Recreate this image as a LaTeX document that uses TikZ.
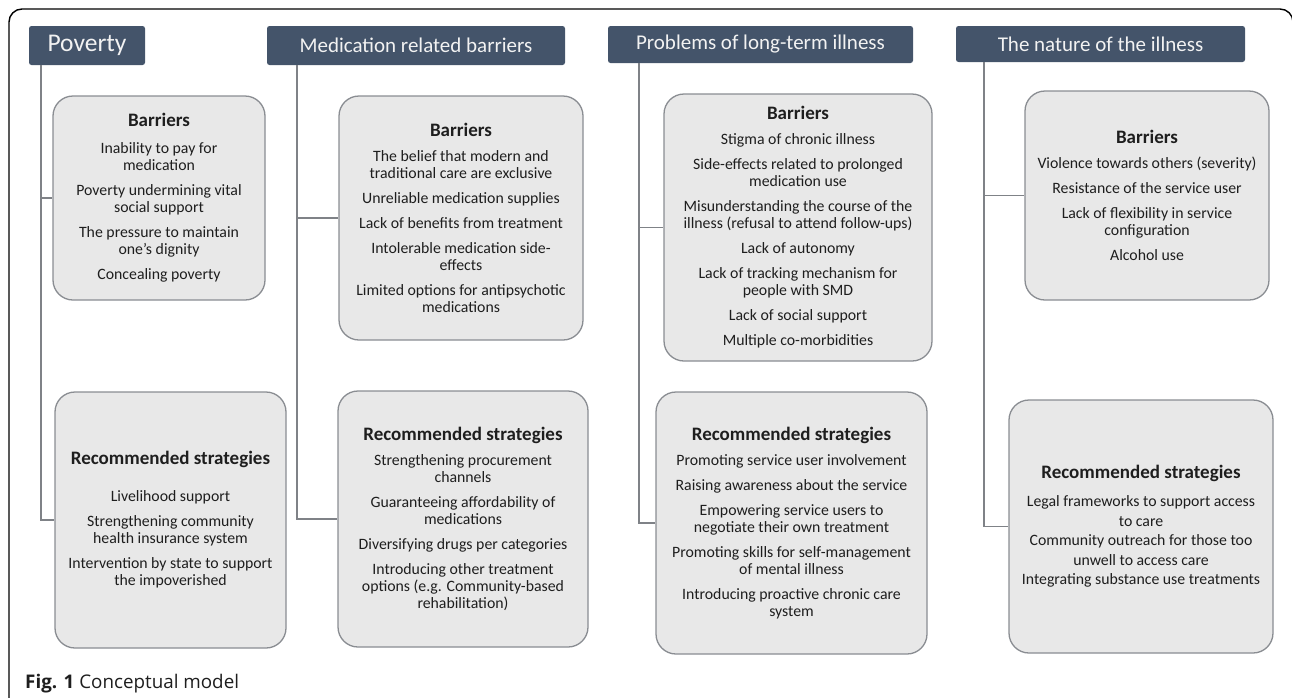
\documentclass[tikz,border=0pt]{standalone}
\usepackage{fontspec}
\setmainfont{Carlito}
\newfontfamily\capfont{Open Sans}
\definecolor{hdrfill}{HTML}{44546A}
\definecolor{boxfill}{HTML}{E8E8E8}
\definecolor{boxline}{HTML}{8A8D92}
\definecolor{conline}{HTML}{7F8287}
\definecolor{txt}{HTML}{1E1E1E}
\begin{document}
\begin{tikzpicture}[x=1pt,y=-1pt,
  hdr/.style={fill=hdrfill, rounded corners=2.5pt, inner sep=0pt, text=white!95!black,
    font=\fontsize{21}{24}\selectfont},
  card/.style={fill=boxfill, draw=boxline, line width=1.3pt, rounded corners=20pt,
    inner sep=0pt, align=center, text=txt, font=\fontsize{15.8}{17}\selectfont},
  con/.style={draw=conline, line width=1.2pt}
]
\useasboundingbox (0,0) rectangle (1292,697);
% outer frame
\draw[line width=1.4pt, rounded corners=13pt] (9,700) -- (9,9) -- (1293,9) -- (1293,700);

% headers
\node[hdr, minimum width=116pt, minimum height=39pt, font=\fontsize{25.5}{28}\selectfont] (hp) at (87,45.5) {Poverty};
\node[hdr, minimum width=298pt, minimum height=39pt] (hm) at (416,45.5) {Medication related barriers};
\node[hdr, minimum width=305pt, minimum height=37pt] (hl) at (760.5,44.5) {Problems of long-term illness};
\node[hdr, minimum width=289pt, minimum height=36pt] (hn) at (1100.5,44) {The nature of the illness};

\newcommand{\bt}[1]{{\fontsize{19}{20}\selectfont\bfseries #1}}
\newcommand{\gp}{\\[8pt]}

% Poverty boxes
\node[card, minimum width=212pt, minimum height=204pt] (pb) at (159,198) {%
\bt{Barriers}\\[10pt]
Inability to pay for\\ medication\gp
Poverty undermining vital\\ social support\gp
The pressure to maintain\\ one’s dignity\gp
Concealing poverty};
\node[card, minimum width=231pt, minimum height=256pt] (ps) at (170.5,520) {%
\bt{Recommended strategies}\\[20pt]
Livelihood support\gp
Strengthening community\\ health insurance system\gp
Intervention by state to support\\ the impoverished};

% Medication boxes
\node[card, minimum width=244pt, minimum height=244pt] (mb) at (461,218) {%
\bt{Barriers}\\[8pt]
The belief that modern and\\ traditional care are exclusive\gp
Unreliable medication supplies\gp
Lack of benefits from treatment\gp
Intolerable medication side-\\ effects\gp
Limited options for antipsychotic\\ medications};
\node[card, minimum width=250pt, minimum height=256pt] (ms) at (463,519) {%
\bt{Recommended strategies}\\[8pt]
Strengthening procurement\\ channels\gp
Guaranteeing affordability of\\ medications\gp
Diversifying drugs per categories\gp
Introducing other treatment\\ options (e.g. Community-based\\ rehabilitation)};

% Long-term illness boxes
\node[card, minimum width=268pt, minimum height=267pt] (lb) at (798,227.5) {%
\bt{Barriers}\\[8pt]
Stigma of chronic illness\gp
Side-effects related to prolonged\\ medication use\gp
Misunderstanding the course of the\\ illness (refusal to attend follow-ups)\gp
Lack of autonomy\gp
Lack of tracking mechanism for\\ people with SMD\gp
Lack of social support\gp
Multiple co-morbidities};
\node[card, minimum width=271pt, minimum height=262pt] (ls) at (791.5,523) {%
\bt{Recommended strategies}\\[8pt]
Promoting service user involvement\gp
Raising awareness about the service\gp
Empowering service users to\\ negotiate their own treatment\gp
Promoting skills for self-management\\ of mental illness\gp
Introducing proactive chronic care\\ system};

% Nature boxes
\node[card, minimum width=244pt, minimum height=209pt] (nb) at (1147,195.5) {%
\bt{Barriers}\\[8pt]
Violence towards others (severity)\gp
Resistance of the service user\gp
Lack of flexibility in service\\ configuration\gp
Alcohol use};
\node[card, minimum width=264pt, minimum height=253pt] (ns) at (1141,526.5) {%
\bt{Recommended strategies}\\[11pt]
Legal frameworks to support access\\[2.5pt] to care\\[2.5pt]
Community outreach for those too\\[2.5pt] unwell to access care\\[2.5pt]
Integrating substance use treatments};

% spines
\coordinate (sp) at (41,65);
\coordinate (sm) at (297,65);
\coordinate (sl) at (639,63);
\coordinate (sn) at (984,62);
\draw[con] (sp) |- (ps.west);
\draw[con] (sp |- pb.west) -- (pb.west);
\draw[con] (sm) |- (ms.west);
\draw[con] (sm |- mb.west) -- (mb.west);
\draw[con] (sl) |- (ls.west);
\draw[con] (sl |- lb.west) -- (lb.west);
\draw[con] (sn) |- (ns.west);
\draw[con] (sn |- nb.west) -- (nb.west);

% caption
\node[anchor=base west, inner sep=0pt, text=txt, font=\capfont\fontsize{18.8}{20}\selectfont] (cap) at (25,688) {\textbf{Fig. 1} Conceptual model};
\end{tikzpicture}
\end{document}
